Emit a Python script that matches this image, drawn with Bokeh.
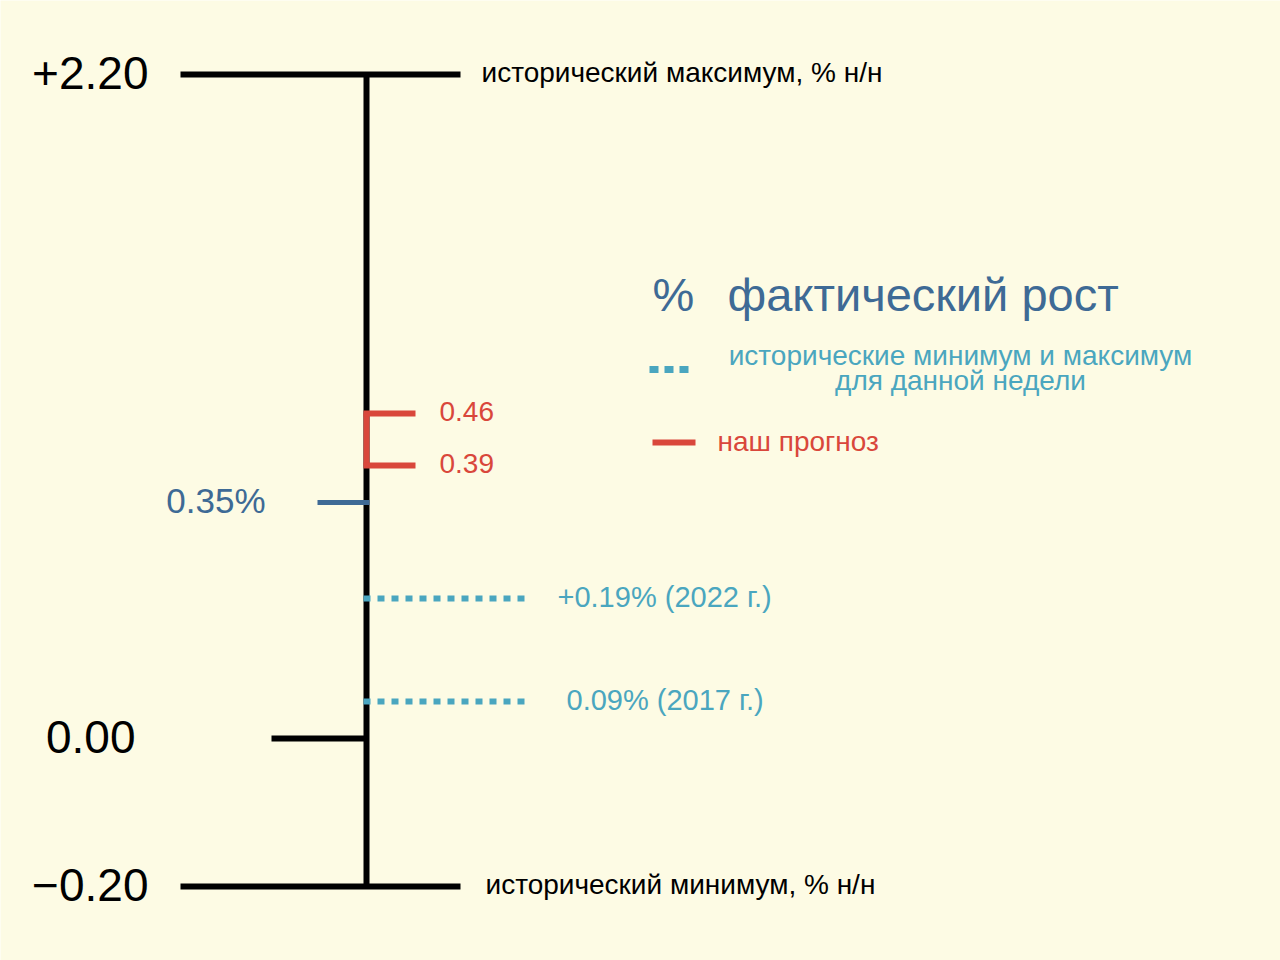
import numpy as np
from bokeh.plotting import figure
from bokeh.models import Range1d
from bokeh.core.properties import value
from bokeh.embed import file_html
from bokeh.resources import INLINE

# ---------------- data ----------------
hist_max = 2.20
hist_min = -0.20
zero_level = 0.00
forecast = [0.46, 0.39]
actual = 0.35
week_hist_values = [0.19, 0.09]
week_hist_years = [2022, 2017]

scale_labels = ["+2.20", "0.00", "\u22120.20"]
max_text = "исторический максимум, % н/н"
min_text = "исторический минимум, % н/н"
legend_title = "фактический рост"
legend_hist = ["исторические минимум и максимум", "для данной недели"]
legend_fc = "наш прогноз"

# ---------------- schematic (not-to-scale) vertical axis ----------------
# the original axis is drawn out of proportion; map values onto it piecewise
knot_values = [-0.20, 0.00, 0.09, 0.19, 0.35, 0.39, 0.46, 2.20]
knot_pos = [74, 222, 259, 362, 458, 495, 547, 886]


def Y(v):
    return float(np.interp(v, knot_values, knot_pos))


BG = "#fdfbe4"
BLACK = "#000000"
RED = "#d9473b"
BLUE = "#3e6a95"
TEAL = "#4aa6bf"
FONT = value("Liberation Sans")
TXT = dict(text_font=FONT, text_baseline="middle", y_offset=-2)

p = figure(width=1280, height=960, x_range=Range1d(0, 1280), y_range=Range1d(0, 960),
           output_backend="svg", toolbar_location=None, min_border=0)
p.axis.visible = False
p.grid.visible = False
p.outline_line_color = None
p.background_fill_color = BG
p.border_fill_color = BG

AX = 366

# main vertical axis
p.segment(x0=[AX], y0=[Y(hist_min)], x1=[AX], y1=[Y(hist_max)], line_color=BLACK, line_width=6)
# max / min bars
p.segment(x0=[180, 180], y0=[Y(hist_max), Y(hist_min)], x1=[460, 460],
          y1=[Y(hist_max), Y(hist_min)], line_color=BLACK, line_width=6)
# zero tick
p.segment(x0=[271], y0=[Y(zero_level)], x1=[AX], y1=[Y(zero_level)], line_color=BLACK, line_width=6)

# scale labels
p.text(x=[148, 135, 148], y=[Y(hist_max), Y(zero_level), Y(hist_min)], text=scale_labels,
       text_font_size="46px", text_align="right", text_color=BLACK, **TXT)
p.text(x=[481, 485], y=[Y(hist_max), Y(hist_min)], text=[max_text, min_text],
       text_font_size="28px", text_align="left", text_color=BLACK, **TXT)

# forecast bracket
p.segment(x0=[AX], y0=[Y(min(forecast))], x1=[AX], y1=[Y(max(forecast))], line_color=RED, line_width=6)
p.segment(x0=[AX - 3, AX - 3], y0=[Y(v) for v in forecast], x1=[415, 415],
          y1=[Y(v) for v in forecast], line_color=RED, line_width=6)
p.text(x=[439, 439], y=[Y(v) for v in forecast], text=[f"{v:.2f}" for v in forecast],
       text_font_size="28px", text_align="left", text_color=RED, **TXT)

# actual
p.segment(x0=[317], y0=[Y(actual)], x1=[AX + 3], y1=[Y(actual)], line_color=BLUE, line_width=5)
p.text(x=[265], y=[Y(actual)], text=[f"{actual:.2f}%"], text_font_size="35px",
       text_align="right", text_color=BLUE, **TXT)

# historical week min/max
p.segment(x0=[AX - 3] * 2, y0=[Y(v) for v in week_hist_values], x1=[527] * 2,
          y1=[Y(v) for v in week_hist_values], line_color=TEAL, line_width=6, line_dash="7 7")
hist_labels = [("+" if i == 0 else "") + f"{v:.2f}% ({yr} г.)"
               for i, (v, yr) in enumerate(zip(week_hist_values, week_hist_years))]
p.text(x=[557, 566], y=[Y(v) for v in week_hist_values], text=hist_labels,
       text_font_size="29px", text_align="left", text_color=TEAL, **TXT)

# legend
p.text(x=[652, 727], y=[664, 664], text=["%", legend_title],
       text_font_size="47px", text_align="left", text_color=BLUE, **TXT)
p.segment(x0=[649], y0=[591], x1=[692], y1=[591], line_color=TEAL, line_width=7, line_dash="9 6")
p.text(x=[960, 960], y=[603, 578], text=legend_hist, text_font_size="28px",
       text_align="center", text_color=TEAL, **TXT)
p.segment(x0=[652], y0=[518], x1=[695], y1=[518], line_color=RED, line_width=6)
p.text(x=[717], y=[517], text=[legend_fc], text_font_size="28px",
       text_align="left", text_color=RED, **TXT)

open("out.html", "w").write(file_html(p, INLINE))
